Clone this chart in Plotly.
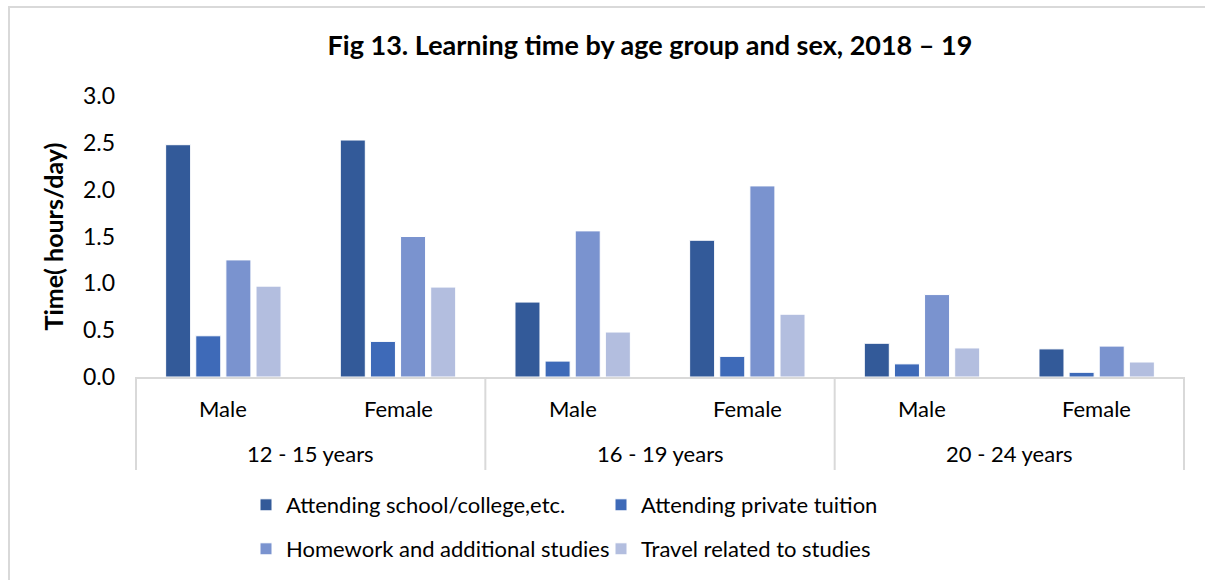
import plotly.graph_objects as go

age_groups = ["12 - 15 years", "12 - 15 years", "16 - 19 years", "16 - 19 years", "20 - 24 years", "20 - 24 years"]
sexes = ["Male", "Female", "Male", "Female", "Male", "Female"]

series_names = ["Attending school/college,etc.", "Attending private tuition",
                "Homework and additional studies", "Travel related to studies"]
school = [2.48, 2.53, 0.80, 1.46, 0.36, 0.30]
tuition = [0.44, 0.38, 0.17, 0.22, 0.14, 0.05]
homework = [1.25, 1.50, 1.56, 2.04, 0.88, 0.33]
travel = [0.97, 0.96, 0.48, 0.67, 0.31, 0.16]
series_values = [school, tuition, homework, travel]
colors = ["#335a99", "#3e6ab8", "#7a93cf", "#b3bedf"]
legend_ids = ["legend", "legend", "legend2", "legend2"]

FONT = "Lato"
GRID = "#d9d9d9"
W, H = 1205, 580
L, R, T, B = 136, 21, 96, 203
PW, PH = W - L - R, H - T - B

fig = go.Figure()
for name, vals, col, lg in zip(series_names, series_values, colors, legend_ids):
    fig.add_trace(go.Bar(
        x=[age_groups, sexes], y=vals, name=name,
        marker=dict(color=col, line=dict(color="white", width=1)),
        legend=lg,
    ))

legend_common = dict(
    orientation="h", xref="container", yref="container", xanchor="left",
    yanchor="middle", entrywidth=310, entrywidthmode="pixels",
    font=dict(family=FONT, size=22, color="#000000"),
    itemwidth=30, bgcolor="rgba(0,0,0,0)", tracegroupgap=0,
)

# category labels and dividers (drawn as annotations/shapes, positioned by category index)
n = len(sexes)
annotations = []
for i, s in enumerate(sexes):
    annotations.append(dict(text=s, xref="paper", yref="paper", x=(i + 0.5) / n,
                            y=-31 / PH, xanchor="center", yanchor="middle", showarrow=False,
                            font=dict(family=FONT, size=22, color="#000000")))
groups = []
for g in age_groups:
    if g not in groups:
        groups.append(g)
shapes = []
for g in groups:
    idx = [i for i, a in enumerate(age_groups) if a == g]
    annotations.append(dict(text=g, xref="paper", yref="paper",
                            x=(idx[0] + idx[-1] + 1) / 2 / n,
                            y=-76 / PH, xanchor="center", yanchor="middle", showarrow=False,
                            font=dict(family=FONT, size=22, color="#000000")))
    shapes.append(dict(type="line", xref="paper", yref="paper", x0=idx[0] / n, x1=idx[0] / n,
                       y0=0, y1=-93 / PH, line=dict(color=GRID, width=2)))
shapes.append(dict(type="line", xref="paper", yref="paper", x0=1, x1=1, y0=0, y1=-93 / PH,
                   line=dict(color=GRID, width=2)))
# chart border
shapes.append(dict(type="rect", xref="paper", yref="paper", x0=-(L - 9) / PW, x1=1.0 + 60 / PW,
                   y0=-(B + 60) / PH, y1=1.0 + (T - 7) / PH, line=dict(color=GRID, width=2),
                   fillcolor="rgba(0,0,0,0)", layer="below"))

fig.update_layout(
    width=W, height=H,
    paper_bgcolor="white", plot_bgcolor="white",
    margin=dict(l=L, r=R, t=T, b=B, autoexpand=False),
    barmode="group", bargap=0.31, bargroupgap=0.17,
    title=dict(text="<b>Fig 13. Learning time by age group and sex, 2018 – 19</b>",
               x=650 / W, xanchor="center", y=1 - 46 / H, yanchor="middle",
               font=dict(family=FONT, size=27, color="#000000")),
    font=dict(family=FONT, size=22, color="#000000"),
    showlegend=True,
    legend=dict(x=246 / W, y=1 - 505 / H, **legend_common),
    legend2=dict(x=246 / W, y=1 - 549 / H, **legend_common),
    yaxis=dict(range=[0, 3.0], dtick=0.5, tickformat=".1f", showgrid=False,
               zeroline=False, showline=False, ticks="", ticklabelstandoff=20,
               tickfont=dict(family=FONT, size=23, color="#000000"),
               title=dict(text="<b>Time( hours/day)</b>", standoff=12,
                          font=dict(family=FONT, size=25, color="#000000"))),
    xaxis=dict(type="multicategory", showline=True, linecolor=GRID, linewidth=2,
               showdividers=False, showticklabels=False, ticks=""),
    annotations=annotations,
    shapes=shapes,
)

fig.write_html("out.html", config={"displayModeBar": False},
               post_script="document.body.style.margin='0';")
